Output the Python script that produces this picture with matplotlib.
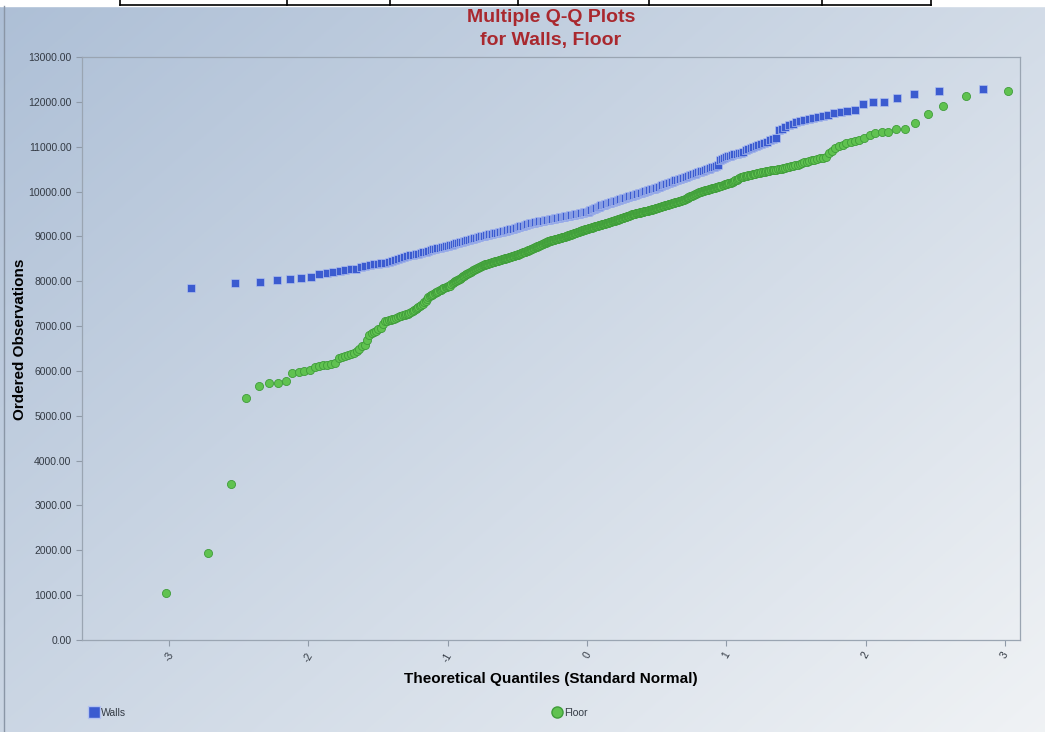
import numpy as np
import matplotlib
matplotlib.use("Agg")
import matplotlib.pyplot as plt
from matplotlib import font_manager
from matplotlib.lines import Line2D
from statistics import NormalDist

# Ordered observations (sorted, one value per point)
walls = [
    7856, 7955, 7977, 8021, 8043, 8065, 8088, 8162, 8191, 8206,
    8229, 8251, 8265, 8280, 8310, 8340, 8355, 8375, 8385, 8400,
    8410, 8430, 8450, 8475, 8500, 8525, 8550, 8565, 8578, 8590,
    8603, 8615, 8630, 8645, 8660, 8680, 8697, 8714, 8725, 8735,
    8745, 8755, 8766, 8778, 8792, 8805, 8818, 8830, 8843, 8855,
    8868, 8880, 8892, 8903, 8915, 8926, 8938, 8949, 8960, 8972,
    8982, 8991, 9001, 9010, 9020, 9029, 9038, 9048, 9056, 9063,
    9070, 9077, 9084, 9092, 9099, 9106, 9113, 9122, 9131, 9140,
    9149, 9158, 9167, 9176, 9184, 9193, 9202, 9212, 9222, 9232,
    9242, 9252, 9262, 9272, 9282, 9292, 9300, 9306, 9311, 9317,
    9323, 9328, 9334, 9340, 9345, 9351, 9357, 9363, 9368, 9374,
    9379, 9385, 9390, 9396, 9401, 9407, 9412, 9418, 9424, 9429,
    9435, 9440, 9446, 9451, 9457, 9462, 9468, 9473, 9479, 9485,
    9491, 9498, 9504, 9510, 9516, 9523, 9529, 9535, 9541, 9547,
    9555, 9567, 9580, 9592, 9605, 9617, 9630, 9642, 9655, 9667,
    9680, 9693, 9702, 9711, 9720, 9729, 9738, 9747, 9756, 9765,
    9774, 9783, 9792, 9801, 9810, 9820, 9829, 9838, 9847, 9857,
    9866, 9875, 9885, 9894, 9904, 9913, 9923, 9932, 9942, 9951,
    9961, 9970, 9980, 9989, 9999, 10009, 10019, 10029, 10039, 10049,
    10059, 10069, 10079, 10088, 10100, 10112, 10125, 10137, 10150, 10162,
    10175, 10187, 10200, 10212, 10224, 10236, 10248, 10260, 10272, 10284,
    10296, 10308, 10322, 10335, 10348, 10361, 10374, 10387, 10400, 10413,
    10427, 10441, 10455, 10469, 10483, 10497, 10511, 10525, 10540, 10555,
    10570, 10585, 10700, 10725, 10750, 10775, 10790, 10803, 10815, 10828,
    10840, 10853, 10870, 10894, 10918, 10942, 10966, 10990, 11013, 11037,
    11060, 11084, 11108, 11140, 11170, 11200, 11370, 11400, 11438, 11476,
    11514, 11552, 11573, 11594, 11615, 11637, 11658, 11680, 11712, 11750,
    11780, 11800, 11830, 11946, 11998, 11998, 12080, 12169, 12250, 12287,
]

floor = [
    1050, 1940, 3480, 5390, 5664, 5724, 5738, 5783, 5947, 5976,
    6005, 6014, 6095, 6118, 6127, 6140, 6155, 6184, 6282, 6310,
    6333, 6350, 6370, 6410, 6440, 6500, 6550, 6590, 6700, 6802,
    6840, 6875, 6900, 6930, 6965, 7050, 7120, 7125, 7130, 7136,
    7150, 7167, 7184, 7202, 7220, 7231, 7242, 7253, 7263, 7274,
    7285, 7310, 7335, 7360, 7385, 7405, 7425, 7445, 7465, 7488,
    7530, 7570, 7615, 7656, 7672, 7688, 7703, 7718, 7735, 7752,
    7769, 7786, 7803, 7816, 7829, 7842, 7855, 7868, 7880, 7888,
    7895, 7903, 7930, 7960, 7985, 8000, 8010, 8020, 8028, 8045,
    8062, 8078, 8095, 8112, 8128, 8145, 8160, 8170, 8182, 8194,
    8206, 8218, 8230, 8242, 8253, 8265, 8277, 8289, 8301, 8313,
    8325, 8337, 8348, 8360, 8366, 8372, 8378, 8384, 8390, 8396,
    8402, 8408, 8414, 8420, 8425, 8431, 8437, 8443, 8449, 8455,
    8461, 8467, 8473, 8477, 8482, 8488, 8493, 8499, 8504, 8510,
    8515, 8521, 8526, 8532, 8537, 8543, 8548, 8554, 8559, 8565,
    8570, 8576, 8581, 8587, 8594, 8601, 8608, 8615, 8622, 8628,
    8635, 8642, 8649, 8656, 8663, 8670, 8677, 8683, 8690, 8697,
    8704, 8711, 8718, 8725, 8733, 8740, 8747, 8755, 8762, 8770,
    8777, 8785, 8792, 8800, 8807, 8815, 8822, 8829, 8837, 8844,
    8852, 8859, 8867, 8874, 8882, 8889, 8896, 8904, 8908, 8913,
    8917, 8922, 8926, 8931, 8935, 8940, 8944, 8949, 8953, 8958,
    8962, 8967, 8971, 8976, 8980, 8985, 8989, 8994, 8998, 9003,
    9007, 9012, 9018, 9024, 9029, 9035, 9041, 9046, 9052, 9058,
    9063, 9069, 9075, 9080, 9086, 9092, 9097, 9103, 9109, 9114,
    9120, 9126, 9131, 9137, 9143, 9148, 9152, 9157, 9162, 9166,
    9171, 9176, 9180, 9185, 9190, 9195, 9199, 9204, 9208, 9213,
    9218, 9223, 9227, 9232, 9236, 9241, 9246, 9250, 9255, 9260,
    9264, 9269, 9274, 9278, 9283, 9288, 9292, 9297, 9302, 9307,
    9311, 9316, 9321, 9325, 9330, 9335, 9339, 9344, 9349, 9353,
    9358, 9363, 9367, 9373, 9379, 9385, 9391, 9396, 9402, 9408,
    9414, 9420, 9426, 9431, 9437, 9443, 9449, 9455, 9461, 9466,
    9472, 9478, 9484, 9490, 9496, 9502, 9506, 9510, 9514, 9518,
    9522, 9526, 9530, 9534, 9538, 9542, 9546, 9550, 9553, 9557,
    9561, 9565, 9569, 9573, 9577, 9581, 9585, 9590, 9595, 9600,
    9606, 9611, 9616, 9622, 9627, 9632, 9638, 9643, 9648, 9653,
    9659, 9664, 9669, 9675, 9680, 9685, 9691, 9696, 9702, 9707,
    9713, 9719, 9724, 9730, 9736, 9741, 9747, 9753, 9758, 9764,
    9770, 9776, 9781, 9787, 9793, 9798, 9804, 9810, 9820, 9831,
    9841, 9851, 9862, 9872, 9882, 9893, 9903, 9913, 9924, 9934,
    9944, 9955, 9965, 9975, 9986, 9996, 10002, 10009, 10015, 10021,
    10028, 10034, 10040, 10047, 10053, 10059, 10066, 10072, 10078, 10085,
    10091, 10097, 10102, 10110, 10119, 10127, 10135, 10143, 10151, 10160,
    10168, 10176, 10184, 10192, 10201, 10209, 10217, 10235, 10252, 10270,
    10288, 10305, 10320, 10327, 10334, 10341, 10348, 10355, 10362, 10369,
    10375, 10383, 10391, 10399, 10407, 10415, 10423, 10431, 10439, 10447,
    10455, 10462, 10468, 10474, 10480, 10486, 10492, 10498, 10505, 10512,
    10519, 10531, 10543, 10555, 10567, 10579, 10591, 10603, 10615, 10632,
    10650, 10668, 10687, 10700, 10715, 10730, 10745, 10760, 10770, 10853,
    10900, 10980, 11020, 11050, 11080, 11110, 11128, 11150, 11202, 11262,
    11313, 11328, 11328, 11388, 11388, 11536, 11730, 11915, 12131, 12250,
]

series_names = ["Walls", "Floor"]
y_ticks = list(range(0, 13001, 1000))
x_ticks = [-3, -2, -1, 0, 1, 2, 3]


def theoretical_quantiles(values):
    # Blom plotting positions against the standard normal
    n = len(values)
    nd = NormalDist()
    return np.array([nd.inv_cdf((i - 0.375) / (n + 0.25)) for i in range(1, n + 1)])


names = {f.name for f in font_manager.fontManager.ttflist}
title_font = "Liberation Sans Narrow" if "Liberation Sans Narrow" in names else "Liberation Sans"
plt.rcParams["font.family"] = ["Liberation Sans", "DejaVu Sans"]

fig = plt.figure(figsize=(10.45, 7.32), dpi=100)

# gradient background
bg = fig.add_axes([0, 0, 1, 1], zorder=-10)
gx, gy = np.meshgrid(np.linspace(0, 1, 400), np.linspace(0, 1, 300))
t = np.clip(0.55 * gx + 0.45 * gy, 0, 1)
c0 = np.array([0.68, 0.75, 0.84])
c1 = np.array([0.94, 0.95, 0.96])
grad = c0[None, None, :] * (1 - t[..., None]) + c1[None, None, :] * t[..., None]
bg.imshow(grad, extent=[0, 1045, 732, 0], aspect="auto")
bg.set_xlim(0, 1045)
bg.set_ylim(732, 0)
bg.axis("off")
# page strip at the top
bg.fill_between([0, 1045], 0, 6, color="white", zorder=2)
bg.plot([120, 931], [5, 5], color="black", lw=1.2, zorder=3)
for xv in [120, 287, 390, 518, 649, 822, 931]:
    bg.plot([xv, xv], [0, 5], color="black", lw=1.2, zorder=3)
bg.plot([4, 4], [6, 732], color="#8a96a6", lw=1, zorder=3)

ax = fig.add_axes([0.0785, 0.1257, 0.8975, 0.7963])
ax.patch.set_alpha(0)
ax.set_xlim(-3.625, 3.108)
ax.set_ylim(0, 13000)

ax.scatter(theoretical_quantiles(walls), walls, marker="s", s=30,
           facecolor="#3b5bd0", edgecolor="#b4c3f0", linewidth=0.45, zorder=3)
ax.scatter(theoretical_quantiles(floor), floor, marker="o", s=34,
           facecolor="#60c250", edgecolor="#3f9c3a", linewidth=0.6, zorder=2)

ax.set_yticks(y_ticks)
ax.set_yticklabels([f"{v:.2f}" for v in y_ticks], fontsize=7.5, color="#333a44")
ax.set_xticks(x_ticks)
ax.set_xticklabels([str(v) for v in x_ticks], fontsize=7.5, color="#333a44",
                   rotation=60)
ax.tick_params(length=4, color="#8f9aa8", width=0.8)
for sp in ax.spines.values():
    sp.set_color("#9aa5b2")
    sp.set_linewidth(0.9)

ax.set_ylabel("Ordered Observations", fontsize=11, fontweight="bold")
ax.yaxis.set_label_coords(-0.059, 0.515)
ax.set_xlabel("Theoretical Quantiles (Standard Normal)", fontsize=11,
              fontweight="bold", labelpad=6)

fig.text(0.527, 0.976, "Multiple Q-Q Plots", ha="center", va="center",
         fontsize=14, fontweight="bold", color="#a9282e", family=title_font)
fig.text(0.527, 0.945, "for Walls, Floor", ha="center", va="center",
         fontsize=14, fontweight="bold", color="#a9282e", family=title_font)

h_walls = Line2D([], [], marker="s", ls="none", markersize=8,
                 markerfacecolor="#3b5bd0", markeredgecolor="#b4c3f0")
h_floor = Line2D([], [], marker="o", ls="none", markersize=8,
                 markerfacecolor="#60c250", markeredgecolor="#3f9c3a")
fig.legend([h_walls], [series_names[0]], loc="center left",
           bbox_to_anchor=(0.075, 0.026), frameon=False, fontsize=7.5,
           handletextpad=0.1, handlelength=1.2, labelcolor="#333a44")
fig.legend([h_floor], [series_names[1]], loc="center left",
           bbox_to_anchor=(0.518, 0.026), frameon=False, fontsize=7.5,
           handletextpad=0.1, handlelength=1.2, labelcolor="#333a44")

fig.savefig("out.png", dpi=100)
